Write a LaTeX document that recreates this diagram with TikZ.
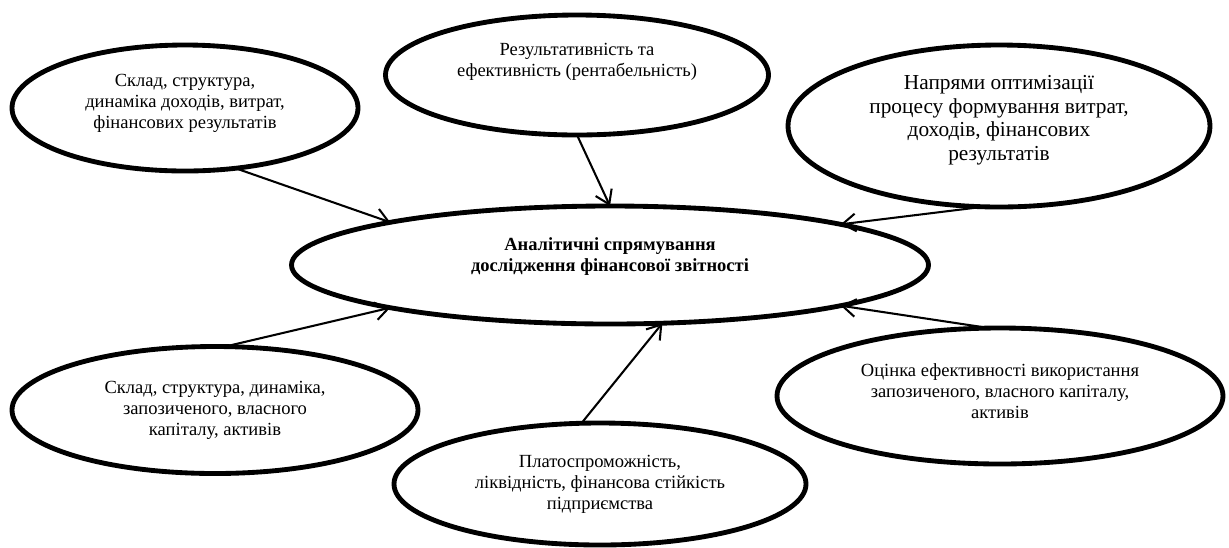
\documentclass[tikz,border=0pt]{standalone}
\usepackage{fontspec}
\setmainfont{Liberation Serif}
\usetikzlibrary{shapes.geometric,arrows.meta}
\begin{document}
\begin{tikzpicture}[x=0.68pt,y=-0.68pt,
            oval/.style={ellipse,draw,line width=3.3pt,inner sep=0pt,outer sep=0pt},
            dims/.style 2 args={minimum width=#1*0.68pt,minimum height=#2*0.68pt},
            txt/.style={align=center,inner sep=0pt,font=\fontsize{12.6}{14.2}\selectfont},
            conn/.style={-{Straight Barb[length=9pt,width=12pt]},line width=1.4pt}]
            \useasboundingbox (0,0) rectangle (1229,547);
            \node[oval,dims={637}{118}] (centre) at (610,265) {};
            \node[txt,font=\bfseries\fontsize{12.6}{14.2}\selectfont] (centre-t) at ([yshift=6pt]centre.center) {Аналітичні спрямування\\дослідження фінансової звітності};
            \node[oval,dims={346}{126}] (sklad) at (185,108) {};
            \node[txt] (sklad-t) at ([yshift=3pt]sklad.center) {Склад, структура,\\динаміка доходів, витрат,\\фінансових результатів};
            \node[oval,dims={383}{120}] (rez) at (577,75) {};
            \node[txt] (rez-t) at ([yshift=8.8pt]rez.center) {Результативність та\\ефективність (рентабельність)};
            \node[oval,dims={422}{162}] (napr) at (999,126) {};
            \node[txt,font=\fontsize{14.5}{16}\selectfont] (napr-t) at ([yshift=4pt]napr.center) {Напрями оптимізації\\процесу формування витрат,\\доходів, фінансових\\результатів};
            \node[oval,dims={406}{127}] (kap) at (215,410) {};
            \node[txt] (kap-t) at (kap.center) {Склад, структура, динаміка,\\запозиченого, власного\\капіталу, активів};
            \node[oval,dims={412}{122}] (plat) at (600,484) {};
            \node[txt] (plat-t) at (plat.center) {Платоспроможність,\\ліквідність, фінансова стійкість\\підприємства};
            \node[oval,dims={446}{136}] (ocin) at (1000,396) {};
            \node[txt] (ocin-t) at ([yshift=3.4pt]ocin.center) {Оцінка ефективності використання\\запозиченого, власного капіталу,\\активів};
            \draw[conn] (sklad.-50) -- (centre.169);
            \draw[conn] (rez.-90) -- (centre.90);
            \draw[conn] (napr.-101) -- (centre.10.5);
            \draw[conn] (kap.81) -- (centre.191);
            \draw[conn] (plat.107.6) -- (centre.-48);
            \draw[conn] (ocin.99) -- (centre.-10.9);
          \end{tikzpicture}
\end{document}
